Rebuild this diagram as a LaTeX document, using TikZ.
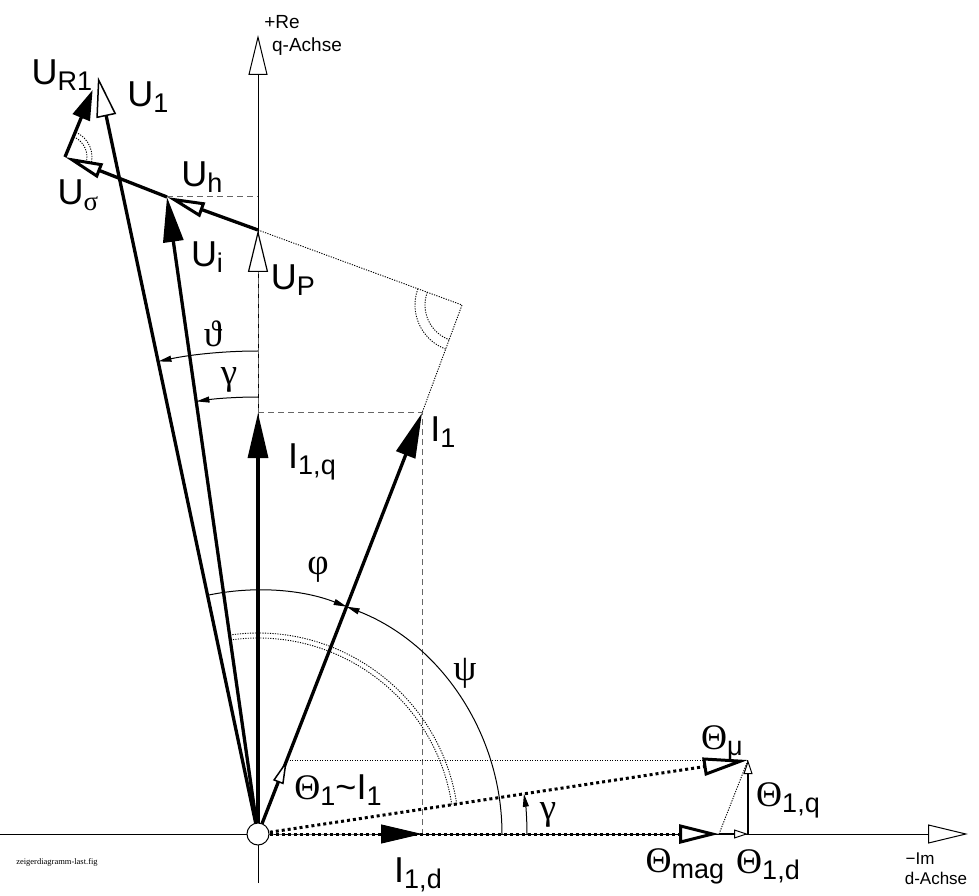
\documentclass[tikz,border=0pt]{standalone}
\usepackage{fontspec}
\setmainfont{Liberation Sans}
\newfontfamily\grk{Liberation Serif}
\usetikzlibrary{arrows.meta}
\newcommand\sub[1]{\raisebox{-6pt}{\fontsize{27}{27}\selectfont #1}}

\begin{document}
\begin{tikzpicture}[x=1pt,y=1pt,
axisline/.style={line width=1pt,-{Triangle[fill=white,length=40pt,width=19pt,line width=1pt]}},
fullvec/.style={line width=3.3pt,-{Triangle[length=45pt,width=20pt]}},
openvec/.style={line width=3.3pt,-{Triangle[fill=white,length=40pt,width=20pt,line width=1.5pt]}},
boldopen/.style={line width=3.3pt,-{Triangle[fill=white,length=38pt,width=15pt,line width=3pt]}},
flux/.style={line width=3pt,dash pattern=on 3pt off 3pt,-{Triangle[fill=white,length=40pt,width=19pt,line width=3pt]}},
smallvec/.style={line width=1.5pt,-{Triangle[fill=white,length=14pt,width=9pt,line width=1pt]}},
proj/.style={black!60,line width=1pt,dash pattern=on 6pt off 4pt},
aux/.style={line width=0.9pt,dash pattern=on 1.2pt off 1.3pt},
angarrow/.style={line width=1pt,-{Triangle[length=13pt,width=6pt]}},
lbl/.style={inner sep=0pt,font=\fontsize{36}{36}\selectfont},
glbl/.style={inner sep=0pt,font=\fontsize{37}{37}\selectfont\grk},
axlbl/.style={inner sep=0pt,font=\fontsize{19}{19}\selectfont}]
\useasboundingbox (-258,-61) rectangle (721,834);

% points
\coordinate (O) at (0,0);
\coordinate (dL) at (-258,0);
\coordinate (dR) at (710,0);
\coordinate (qB) at (0,-49);
\coordinate (qT) at (0,799);
\coordinate (Iq) at (0,421);
\coordinate (I1) at (164,421);
\coordinate (Id) at (164,0);
\coordinate (UP) at (0,604);
\coordinate (C) at (204,529);
\coordinate (Ui) at (-91,637);
\coordinate (Us) at (-193,677);
\coordinate (U1) at (-160,757);
\coordinate (T1) at (29,74);
\coordinate (Tm) at (490,74);
\coordinate (Tmag) at (461,0);
\coordinate (Td) at (490,0);

% axes
\draw[axisline] (dL) -- (dR);
\draw[axisline] (qB) -- (qT);

% helper lines
\draw[proj] (Iq) -- (I1) -- (Id);
\draw[proj] (Ui) -- (Ui -| O);
\draw[aux] (UP) -- (C) -- (I1);
\draw[aux] (T1) -- (Tm);
\draw[aux] (Tmag) -- (Tm);
\draw[aux] (O) ++(8.6:196) arc[start angle=8.6,end angle=98.3,radius=196];
\draw[aux] (O) ++(8.6:201) arc[start angle=8.6,end angle=98.3,radius=201];
\draw[aux] (C) ++(159.8:37) arc[start angle=159.8,end angle=249.7,radius=37];
\draw[aux] (C) ++(159.8:47) arc[start angle=159.8,end angle=249.7,radius=47];
\draw[aux] (Us) ++(-21.4:22) arc[start angle=-21.4,end angle=67.6,radius=22];
\draw[aux] (Us) ++(-21.4:27) arc[start angle=-21.4,end angle=67.6,radius=27];

% angles
\draw[angarrow] (O) ++(101.9:244) arc[start angle=101.9,end angle=68.7,radius=244];
\draw[angarrow] (O) ++(0:244) arc[start angle=0,end angle=68.7,radius=244];
\draw[angarrow] (O) ++(90:483) arc[start angle=90,end angle=101.9,radius=483];
\draw[angarrow] (O) ++(90:437) arc[start angle=90,end angle=98.1,radius=437];
\draw[angarrow] (O) ++(0:269) arc[start angle=0,end angle=8.6,radius=269];

% voltages
\draw[proj,-{Triangle[color=black,fill=white,length=42pt,width=20pt,line width=1.2pt]}] (O) -- (UP);
\draw[fullvec] (O) -- (Ui);
\draw[openvec] (O) -- (U1);
\draw[boldopen] (UP) -- (Ui);
\draw[boldopen] (Ui) -- (Us);
\draw[line width=3.3pt,-{Triangle[length=30pt,width=18pt]},shorten >=14pt] (Us) -- (U1);

% currents
\draw[proj,-{Triangle[color=black,length=41pt,width=19pt]}] (O) -- (Id);
\draw[fullvec] (O) -- (Iq);
\draw[fullvec] (O) -- (I1);

% mmf
\draw[flux] (O) -- (Tmag);
\draw[flux,-{Triangle[fill=white,length=45pt,width=18pt,line width=3pt]}] (O) -- (Tm);
\draw[line width=2pt,-{Triangle[fill=white,length=24pt,width=11pt,line width=1.5pt]}] (O) -- (T1);
\draw[smallvec] (Tmag) -- (Td);
\draw[smallvec] (Td) -- (Tm);

\draw[line width=1pt,fill=white] (O) circle[radius=11];

% labels
\node[lbl] (lUR) at (-196,759) {U\sub{R1}};
\node[lbl] (lU1) at (-110,737) {U\sub{1}};
\node[lbl] (lUs) at (-180,639) {U\sub{\grk σ}};
\node[lbl] (lUh) at (-56,657) {U\sub{h}};
\node[lbl] (lUi) at (-51,577) {U\sub{i}};
\node[lbl] (lUP) at (35,554) {U\sub{P}};
\node[glbl] (lth) at (-45,500) {ϑ};
\node[glbl] (lga) at (-29,454) {γ};
\node[lbl] (lIq) at (54,372) {I\sub{1,q}};
\node[lbl] (lI1) at (185,402) {I\sub{1}};
\node[glbl] (lphi) at (60,264) {φ};
\node[glbl] (lpsi) at (207,161) {ψ};
\node[lbl] (lT1) at (80,44) {{\grk Θ}\sub{1}\textasciitilde I\sub{1}};
\node[glbl] (lgb) at (290,19) {γ};
\node[lbl] (lTm) at (464,91) {{\grk Θ}\sub{μ}};
\node[lbl] (lTq) at (530,34) {{\grk Θ}\sub{1,q}};
\node[lbl] (lTmag) at (427,-32) {{\grk Θ}\sub{mag}};
\node[lbl] (lTd) at (510,-32) {{\grk Θ}\sub{1,d}};
\node[lbl] (lId) at (160,-41) {I\sub{1,d}};
\node[axlbl] (re) at (24,812) {+Re};
\node[axlbl] (qa) at (49,787) {q-Achse};
\node[axlbl,font=\fontsize{17}{17}\selectfont] (im) at (662,-25) {−Im};
\node[axlbl,font=\fontsize{17}{17}\selectfont] (da) at (678,-44) {d-Achse};
\node[inner sep=0pt,font=\fontsize{8.5}{8.5}\selectfont\grk] (fig) at (-201,-28) {zeigerdiagramm-last.fig};
\end{tikzpicture}
\end{document}
